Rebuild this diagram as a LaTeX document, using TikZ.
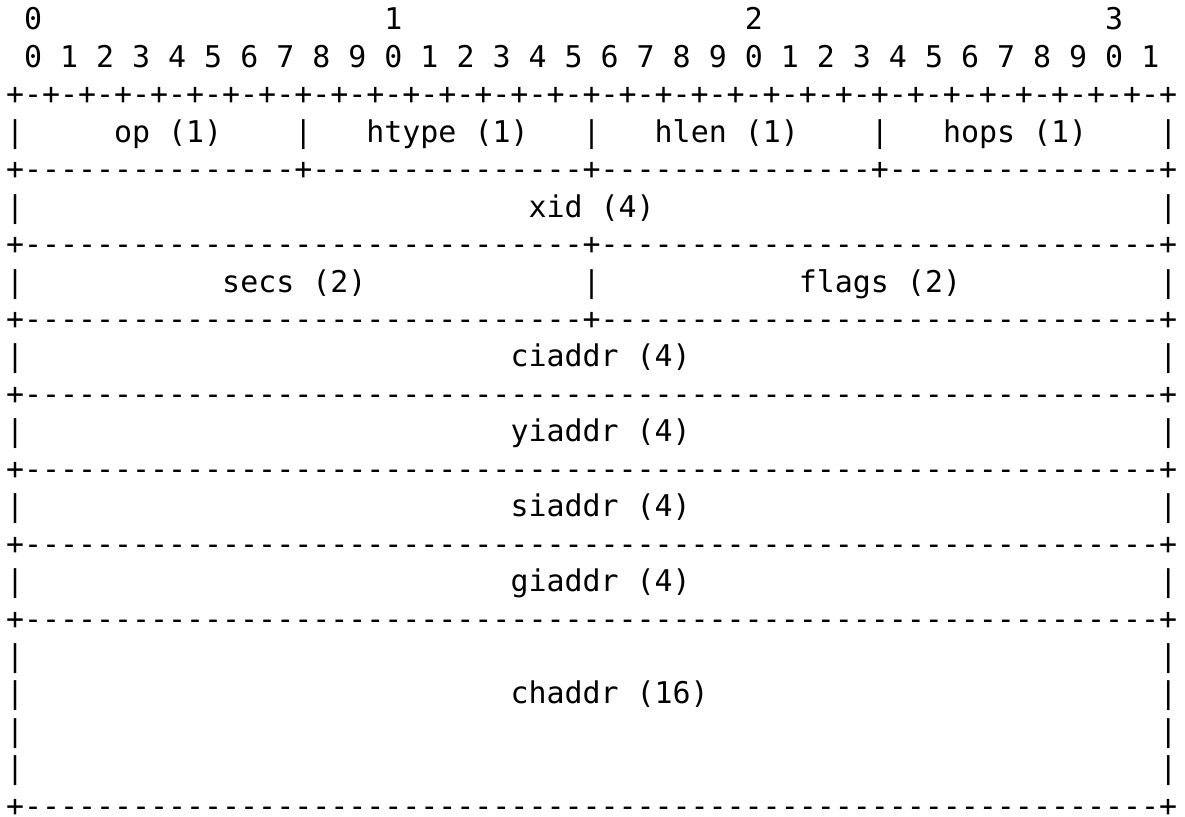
\documentclass[tikz,border=0pt]{standalone}
\usepackage{fontspec}
\setmonofont{DejaVu Sans Mono}
% rule pieces of the packet layout
\def\tickeight{+-+-+-+-+-+-+-+-}
\def\dfifteen{---------------}
\def\dthirtyone{\dfifteen\dfifteen-}
\def\dsixtythree{\dthirtyone\dthirtyone-}
\begin{document}
\begin{tikzpicture}[x=9.01pt, y=-18.72pt,
  cell/.style={anchor=base west, inner sep=0pt, outer sep=0pt,
    font=\ttfamily\fontsize{14.965pt}{18pt}\selectfont, text=black}]
\useasboundingbox[fill=white] (-3pt,15pt) rectangle (589.5pt,-393.5pt);

% bit numbering
\node[cell] (dec0) at (1,0) {0};
\node[cell] (dec1) at (21,0) {1};
\node[cell] (dec2) at (41,0) {2};
\node[cell] (dec3) at (61,0) {3};
\foreach \i in {0,...,31} {
  \pgfmathtruncatemacro\d{mod(\i,10)}
  \node[cell] (bit\i) at ({2*\i+1},1) {\d};
}

% horizontal rules
\node[cell] (ruleTop) at (0,2) {\tickeight\tickeight\tickeight\tickeight+};
\node[cell] (ruleOp) at (0,4) {+\dfifteen+\dfifteen+\dfifteen+\dfifteen+};
\node[cell] (ruleXid) at (0,6) {+\dthirtyone+\dthirtyone+};
\node[cell] (ruleSecs) at (0,8) {+\dthirtyone+\dthirtyone+};
\node[cell] (ruleCi) at (0,10) {+\dsixtythree+};
\node[cell] (ruleYi) at (0,12) {+\dsixtythree+};
\node[cell] (ruleSi) at (0,14) {+\dsixtythree+};
\node[cell] (ruleGi) at (0,16) {+\dsixtythree+};
\node[cell, text depth=0pt] (ruleCh) at (0,21) {+\dsixtythree+};

% vertical separators
\foreach \c in {0,16,32,48,64} \node[cell] (barOp\c) at (\c,3) {|};
\foreach \c in {0,64} \node[cell] (barXid\c) at (\c,5) {|};
\foreach \c in {0,32,64} \node[cell] (barSecs\c) at (\c,7) {|};
\foreach \r in {9,11,13,15,17,18,19,20}
  \foreach \c in {0,64} \node[cell] (bar\r-\c) at (\c,\r) {|};

% field labels
\node[cell] (op) at (6,3) {op (1)};
\node[cell] (htype) at (20,3) {htype (1)};
\node[cell] (hlen) at (36,3) {hlen (1)};
\node[cell] (hops) at (52,3) {hops (1)};
\node[cell] (xid) at (29,5) {xid (4)};
\node[cell] (secs) at (12,7) {secs (2)};
\node[cell] (flags) at (44,7) {flags (2)};
\node[cell] (ciaddr) at (28,9) {ciaddr (4)};
\node[cell] (yiaddr) at (28,11) {yiaddr (4)};
\node[cell] (siaddr) at (28,13) {siaddr (4)};
\node[cell] (giaddr) at (28,15) {giaddr (4)};
\node[cell] (chaddr) at (28,18) {chaddr (16)};
\end{tikzpicture}
\end{document}
